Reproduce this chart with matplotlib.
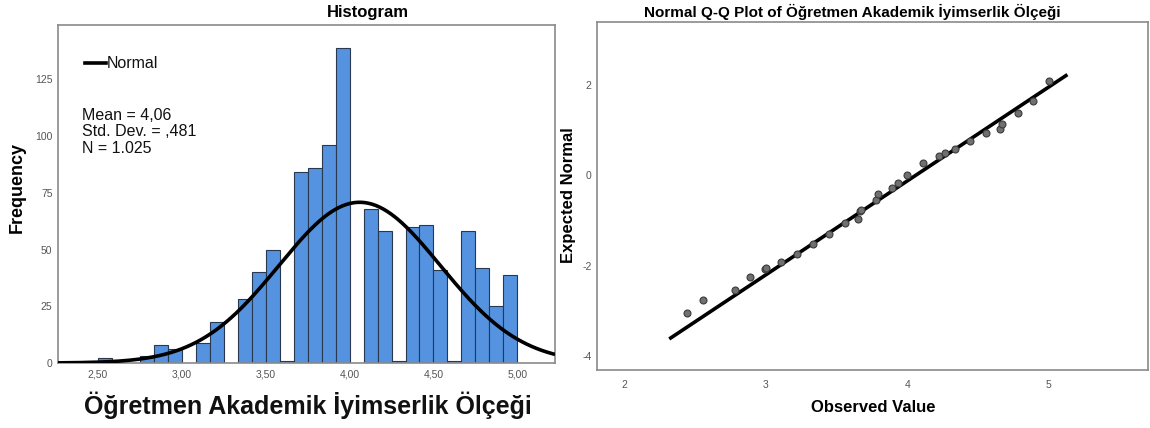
import numpy as np
import matplotlib
matplotlib.use("Agg")
import matplotlib.pyplot as plt
from matplotlib.lines import Line2D

# Histogram data: bins of width 1/12 starting at 29/12
bin_start = 29 / 12
bin_width = 1 / 12
counts = [1, 2, 0, 0, 3, 8, 6, 0, 9, 18, 0, 28, 40, 50, 1, 84, 86, 96, 139,
          0, 68, 58, 1, 60, 61, 41, 1, 58, 42, 25, 39]
mean_val = 4.06
std_val = 0.481
n_val = 1025
hist_xticks = [2.5, 3.0, 3.5, 4.0, 4.5, 5.0]
hist_yticks = [0, 25, 50, 75, 100, 125]

# Q-Q plot data
qq_observed = [2.444, 2.555, 2.779, 2.890, 2.993, 3.0, 3.109, 3.22, 3.333, 3.447,
               3.558, 3.653, 3.666, 3.672, 3.78, 3.795, 3.89, 3.934, 4.0, 4.112,
               4.223, 4.267, 4.334, 4.445, 4.556, 4.654, 4.667, 4.778, 4.891, 5.0]
qq_expected = [-3.04, -2.76, -2.54, -2.26, -2.08, -2.05, -1.93, -1.75, -1.52, -1.29,
               -1.05, -0.96, -0.80, -0.77, -0.54, -0.41, -0.29, -0.17, 0.01, 0.26,
               0.42, 0.49, 0.57, 0.76, 0.94, 1.02, 1.13, 1.38, 1.65, 2.08]
qq_line_x = [2.328, 5.12]
qq_xticks = [2, 3, 4, 5]
qq_yticks = [-4, -2, 0, 2]

var_name = "Öğretmen Akademik İyimserlik Ölçeği"

plt.rcParams['font.family'] = ['Liberation Sans', 'DejaVu Sans']
plt.rcParams['axes.unicode_minus'] = False
W, H = 1150, 428
fig = plt.figure(figsize=(W / 100, H / 100), dpi=100)
fig.patch.set_facecolor('white')

frame_color = '#8a8a8a'
tick_color = '#555555'
narrow = ['Liberation Sans Narrow', 'Liberation Sans', 'DejaVu Sans']


def px_axes(l, t, r, b):
    return fig.add_axes([l / W, 1 - b / H, (r - l) / W, (b - t) / H])


# ---------- Histogram ----------
ax1 = px_axes(58, 25, 555, 363)
edges = [bin_start + i * bin_width for i in range(len(counts))]
for x0, c in zip(edges, counts):
    if c > 0:
        ax1.bar(x0, c, width=bin_width, align='edge', color='#5592df',
                edgecolor='#27384f', linewidth=0.8, zorder=2)

ax1.set_xlim(2.263, 5.224)
ax1.set_ylim(0, 149)
xs = np.linspace(2.263, 5.224, 400)
pdf = n_val * bin_width / (std_val * np.sqrt(2 * np.pi)) * np.exp(-0.5 * ((xs - mean_val) / std_val) ** 2)
ax1.plot(xs, pdf, color='black', lw=2.6, zorder=3, solid_capstyle='butt')

ax1.set_xticks(hist_xticks)
ax1.set_xticklabels([f"{v:.2f}".replace('.', ',') for v in hist_xticks])
ax1.set_yticks(hist_yticks)
ax1.set_yticklabels([str(v) for v in hist_yticks])
ax1.tick_params(axis='x', length=0, labelsize=7.5, labelcolor=tick_color, pad=5)
ax1.tick_params(axis='y', length=0, labelsize=7.5, labelcolor=tick_color, pad=4)
for s in ax1.spines.values():
    s.set_color(frame_color)
    s.set_linewidth(1.2)

# legend and statistics
ax1.add_line(Line2D([85 / W, 106 / W], [1 - 63 / H, 1 - 63 / H], transform=fig.transFigure,
                    color='black', lw=2.6))
fig.text(107 / W, 1 - 63 / H, "Normal", fontsize=11.5, va='center', ha='left', color='#111111')
fig.text(82 / W, 1 - 108 / H, f"Mean = {mean_val:.2f}".replace('.', ','), fontsize=11.5,
         va='top', ha='left', color='#111111')
fig.text(82 / W, 1 - 124 / H, "Std. Dev. = ,481", fontsize=11.5,
         va='top', ha='left', color='#111111')
fig.text(82 / W, 1 - 141 / H, "N = 1.025", fontsize=11.5,
         va='top', ha='left', color='#111111')

fig.text(368 / W, 1 - 12 / H, "Histogram", fontsize=12, fontweight='bold',
         ha='center', va='center')
fig.text(17 / W, 1 - 188 / H, "Frequency", fontsize=13, fontweight='bold',
         rotation=90, ha='center', va='center')
fig.text(308 / W, 1 - 405 / H, var_name, fontsize=18, fontweight='bold',
         ha='center', va='center', color='#111111')

# ---------- Normal Q-Q plot ----------
ax2 = px_axes(597, 22, 1148, 370)
ax2.set_xlim(1.807, 5.70)
ax2.set_ylim(-4.31, 3.39)
line_x = np.array(qq_line_x)
ax2.plot(line_x, (line_x - mean_val) / std_val, color='black', lw=2.6, zorder=2)
ax2.plot(qq_observed, qq_expected, 'o', markersize=5, markerfacecolor='#707070',
         markeredgecolor='#3a3a3a', markeredgewidth=0.8, zorder=3)
ax2.set_xticks(qq_xticks)
ax2.set_yticks(qq_yticks)
ax2.tick_params(axis='x', length=0, labelsize=7.5, labelcolor=tick_color, pad=7)
ax2.tick_params(axis='y', length=0, labelsize=7.5, labelcolor=tick_color, pad=4)
for s in ax2.spines.values():
    s.set_color(frame_color)
    s.set_linewidth(1.2)

fig.text(852 / W, 1 - 12 / H, "Normal Q-Q Plot of " + var_name, fontsize=11,
         fontweight='bold', ha='center', va='center', family=narrow)
fig.text(568 / W, 1 - 195 / H, "Expected Normal", fontsize=12, fontweight='bold',
         rotation=90, ha='center', va='center', family=narrow)
fig.text(873 / W, 1 - 408 / H, "Observed Value", fontsize=12, fontweight='bold',
         ha='center', va='center', family=narrow)

fig.savefig("out.png", dpi=100, facecolor='white')
